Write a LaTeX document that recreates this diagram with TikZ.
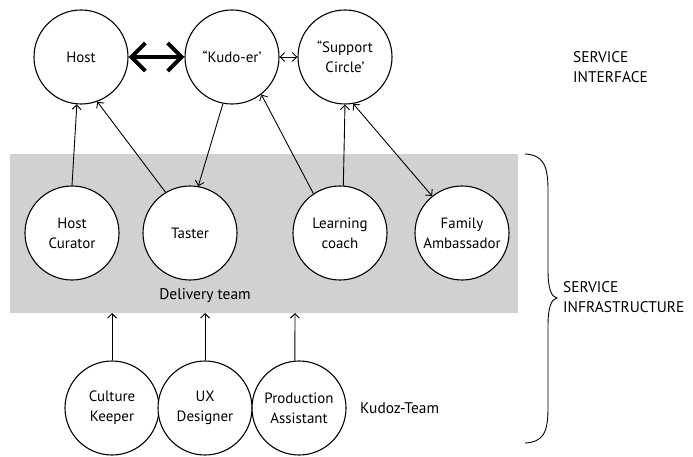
\documentclass[tikz,border=0pt]{standalone}
\usepackage{fontspec}
\setmainfont{PT Sans}
\usetikzlibrary{arrows.meta}
\definecolor{boxgray}{RGB}{209,209,209}
\tikzset{
  role/.style={circle,draw=black,fill=white,line width=1.1bp,minimum size=94bp,inner sep=0pt,align=center,font=\fontsize{15}{20}\selectfont},
  lbl/.style={align=left,anchor=west,inner sep=0pt,font=\fontsize{15.5}{20}\selectfont},
  thin arrow/.style={line width=0.9bp,-{Straight Barb[length=4.5bp,width=9bp]}},
  thin both/.style={line width=0.9bp,{Straight Barb[length=4.5bp,width=9bp]}-{Straight Barb[length=4.5bp,width=9bp]}},
  thick both/.style={line width=4bp,{Straight Barb[length=14bp,width=28bp]}-{Straight Barb[length=14bp,width=28bp]}}
}
\begin{document}
\begin{tikzpicture}[x=1bp,y=-1bp]
\useasboundingbox (0,0) rectangle (693,457);
\fill[boxgray] (10,154) rectangle (518,313);
% top row
\node[role] (host) at (81,57) {Host};
\node[role] (kudo) at (232,57) {“Kudo-er’};
\node[role] (supp) at (345,57) {“Support\\Circle’};
% middle row
\node[role] (hc) at (72,233) {Host\\Curator};
\node[role] (taster) at (190,233) {Taster};
\node[role] (lc) at (340,233) {Learning\\coach};
\node[role] (fa) at (462,233) {Family\\Ambassador};
% bottom row
\node[role] (ck) at (112,408) {Culture\\Keeper};
\node[role] (ux) at (205,408) {UX\\Designer};
\node[role] (pa) at (299,408) {Production\\Assistant};
% labels
\node[font=\fontsize{15.5}{20}\selectfont] (dt) at (205,296) {Delivery team};
\node[lbl] (kt) at (360,408) {Kudoz-Team};
\node[lbl] (si) at (573,67) {SERVICE\\INTERFACE};
\node[lbl] (sinf) at (563,297) {SERVICE\\INFRASTRUCTURE};
% coordinates on box bottom
\coordinate (b1) at (112,313);
\coordinate (b2) at (205,313);
\coordinate (b3) at (295,313);
% connectors
\draw[thick both] (host.east) -- (kudo.west);
\draw[thin both] (kudo.east) -- (supp.west);
\draw[thin arrow] (hc.north) -- (host.265);
\draw[thin arrow] (taster.121) -- (host.290);
\draw[thin arrow] (kudo.259) -- (taster.80);
\draw[thin arrow] (lc.124) -- (kudo.308);
\draw[thin arrow] (lc.86) -- (supp.270);
\draw[thin both] (fa.129) -- (supp.280);
\draw[thin arrow] (ck.north) -- (b1);
\draw[thin arrow] (ux.north) -- (b2);
\draw[thin arrow] (pa.95) -- (b3);
% brace
\draw[line width=0.9bp] (525,154) .. controls (543,155) and (548,165) .. (548,190)
  -- (548,270) .. controls (548,288) and (551,297) .. (557,298)
  .. controls (551,299) and (548,308) .. (548,326)
  -- (548,408) .. controls (548,433) and (543,442) .. (525,443);
\end{tikzpicture}
\end{document}
